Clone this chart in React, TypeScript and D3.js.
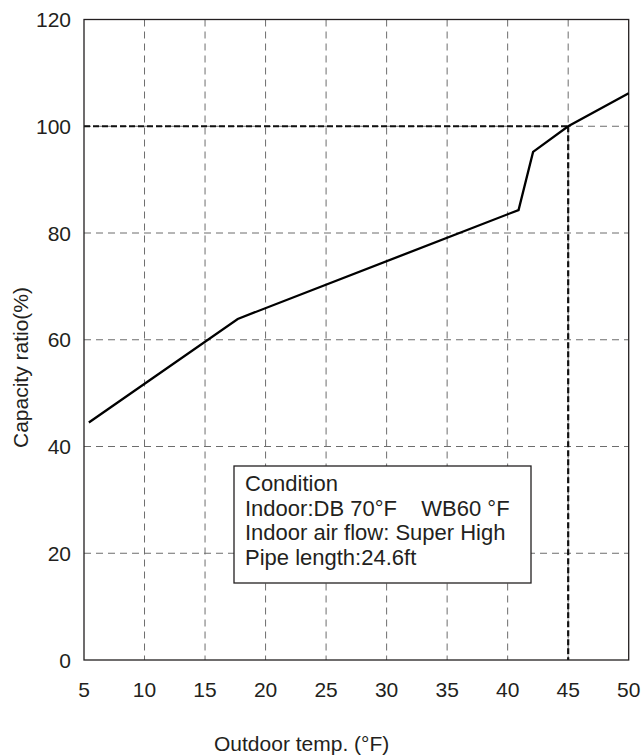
import React from "react";
import * as d3 from "d3";

const temps = [5.4, 17.7, 40.9, 42.1, 45, 50];
const capacity = [44.5, 63.9, 84.3, 95.2, 100, 106.2];
const xTicks = [5, 10, 15, 20, 25, 30, 35, 40, 45, 50];
const yTicks = [0, 20, 40, 60, 80, 100, 120];
const ratedTemp = 45;
const ratedCapacity = 100;
const conditionLines = [
  "Condition",
  "Indoor:DB 70°F    WB60 °F",
  "Indoor air flow: Super High",
  "Pipe length:24.6ft",
];

const W = 641;
const H = 756;
const M = { left: 84, right: 12.3, top: 19.5, bottom: 96 };

export default function App() {
  const x = d3.scaleLinear().domain([5, 50]).range([M.left, W - M.right]);
  const y = d3.scaleLinear().domain([0, 120]).range([H - M.bottom, M.top]);
  const line = d3
    .line<number>()
    .x((_, i) => x(temps[i]))
    .y((d) => y(d));
  const font = "'Liberation Sans', Arial, sans-serif";
  const txt = "#231f20";
  const gridColor = "#6d6d6d";
  const fs = 21;
  return (
    <svg
      width={W}
      height={H}
      style={{ position: "absolute", left: 0, top: 0, background: "#fff" }}
      fontFamily={font}
    >
      {/* grid */}
      {xTicks.slice(1, -1).map((t) => (
        <line
          key={"gx" + t}
          x1={x(t)}
          x2={x(t)}
          y1={y(120)}
          y2={y(0)}
          stroke={gridColor}
          strokeWidth={1}
          strokeDasharray="7,5"
        />
      ))}
      {yTicks.slice(1, -1).map((t) => (
        <line
          key={"gy" + t}
          x1={x(5)}
          x2={x(50)}
          y1={y(t)}
          y2={y(t)}
          stroke={gridColor}
          strokeWidth={1}
          strokeDasharray="7,5"
        />
      ))}
      {/* rated reference lines */}
      <line
        x1={x(5)}
        x2={x(ratedTemp)}
        y1={y(ratedCapacity)}
        y2={y(ratedCapacity)}
        stroke="#111"
        strokeWidth={2}
        strokeDasharray="6,3"
      />
      <line
        x1={x(ratedTemp)}
        x2={x(ratedTemp)}
        y1={y(ratedCapacity)}
        y2={y(0)}
        stroke="#111"
        strokeWidth={2.2}
        strokeDasharray="6,3"
      />
      {/* frame */}
      <rect
        x={x(5)}
        y={y(120)}
        width={x(50) - x(5)}
        height={y(0) - y(120)}
        fill="none"
        stroke={txt}
        strokeWidth={1.3}
      />
      {/* curve */}
      <path d={line(capacity) || ""} fill="none" stroke="#000" strokeWidth={2.3} strokeLinejoin="miter" />
      {/* condition box */}
      <rect x={234} y={466} width={297} height={117} fill="#fff" stroke={txt} strokeWidth={1.3} />
      {conditionLines.map((s, i) => (
        <text
          key={"c" + i}
          x={245}
          y={490.7 + i * 24.8}
          fontSize={22}
          fill={txt}
          style={{ whiteSpace: "pre" }}
        >
          {s}
        </text>
      ))}
      {/* tick labels */}
      {xTicks.map((t) => (
        <text key={"xl" + t} x={x(t)} y={697} textAnchor="middle" fontSize={fs} fill={txt}>
          {t}
        </text>
      ))}
      {yTicks.map((t) => (
        <text key={"yl" + t} x={71} y={y(t) + 7.5} textAnchor="end" fontSize={fs} fill={txt}>
          {t}
        </text>
      ))}
      {/* axis titles */}
      <text x={214} y={751} textAnchor="start" fontSize={fs} fill={txt}>
        Outdoor temp. (°F)
      </text>
      <text
        transform={`translate(28,${367.5}) rotate(-90)`}
        textAnchor="middle"
        fontSize={fs}
        fill={txt}
      >
        Capacity ratio(%)
      </text>
    </svg>
  );
}
